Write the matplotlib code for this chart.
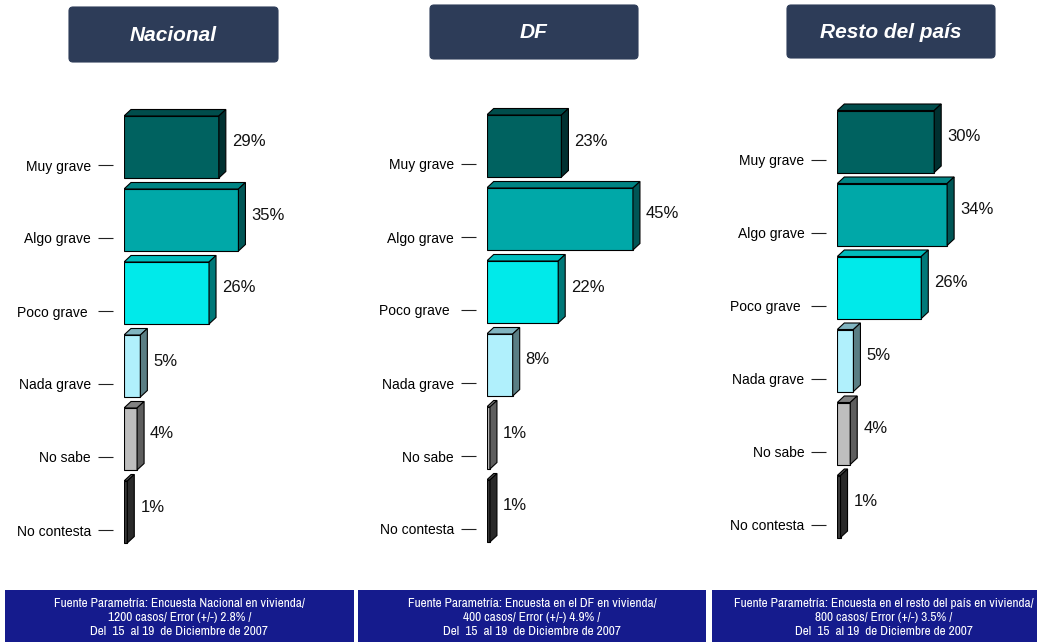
import matplotlib
matplotlib.use("Agg")
import matplotlib.pyplot as plt
from matplotlib.patches import Polygon, FancyBboxPatch, Rectangle
from matplotlib import font_manager

# ---------------- data ----------------
categories = ["Muy grave", "Algo grave", "Poco grave ", "Nada grave", "No sabe", "No contesta"]
nacional = [29, 35, 26, 5, 4, 1]
df_vals = [23, 45, 22, 8, 1, 1]
resto = [30, 34, 26, 5, 4, 1]
titles = ["Nacional", "DF", "Resto del país"]
footers = [
    "Fuente Parametría: Encuesta Nacional en vivienda/\n1200 casos/ Error (+/-) 2.8% /\nDel  15  al 19  de Diciembre de 2007",
    "Fuente Parametría: Encuesta en el DF en vivienda/\n400 casos/ Error (+/-) 4.9% /\nDel  15  al 19  de Diciembre de 2007",
    "Fuente Parametría: Encuesta en el resto del país en vivienda/\n800 casos/ Error (+/-) 3.5% /\nDel  15  al 19  de Diciembre de 2007",
]
series = [nacional, df_vals, resto]

# ---------------- styles ----------------
front_colors = ["#006260", "#00a8a8", "#00eaea", "#b0f0fc", "#bebebe", "#3c3c3c"]
top_colors = ["#004d4c", "#008484", "#00bcbc", "#80b4c0", "#828282", "#555555"]
side_colors = ["#003030", "#005656", "#007878", "#5a7e84", "#5e5e5e", "#2a2a2a"]

installed = {f.name for f in font_manager.fontManager.ttflist}
main_font = "Liberation Sans" if "Liberation Sans" in installed else "DejaVu Sans"
narrow_font = main_font
for cand in ["Liberation Sans Narrow", "Arial Narrow", "Archivo Narrow", "PT Sans Narrow",
             "Pragati Narrow", "Roboto Condensed", "Encode Sans Condensed", "Open Sans Condensed"]:
    if cand in installed:
        narrow_font = cand
        break
plt.rcParams["font.family"] = [main_font, "DejaVu Sans"]

W, H = 1037, 642
fig = plt.figure(figsize=(W / 100, H / 100), dpi=100)

# overlay axes in pixel coordinates for decorations
ov = fig.add_axes([0, 0, 1, 1], zorder=0)
ov.set_xlim(0, W)
ov.set_ylim(H, 0)
ov.axis("off")

title_boxes = [(69, 7, 209, 55), (430, 5, 208, 54), (787, 5, 208, 53)]
for (x, y, w, h), t in zip(title_boxes, titles):
    ov.add_patch(FancyBboxPatch((x, y), w, h, boxstyle="round,pad=0,rounding_size=4",
                                facecolor="#2d3c58", edgecolor="#2d3c58", linewidth=0.8))
    ov.text(x + w / 2, y + h / 2 + 1, t, ha="center", va="center", color="white",
            fontsize=15, fontweight="bold", fontstyle="italic")

footer_boxes = [(5, 590, 349), (358, 590, 348), (712, 590, 350)]
footer_text_x = [179.5, 532, 884]
for (x, y, w), tx, t in zip(footer_boxes, footer_text_x, footers):
    ov.add_patch(Rectangle((x, y), w, H - y + 5, facecolor="#151b8d", edgecolor="none"))
    ov.text(tx, 617.5, t, ha="center", va="center", color="white",
            fontsize=9.6, family=[narrow_font, "DejaVu Sans"], linespacing=1.32)

# ---------------- panels ----------------
panel_x0 = [124, 486.7, 837.3]
panel_scale = [3.27, 3.25, 3.23]
panel_c0 = [147, 146, 141.5]
spacing = 73.0
xmax = 60
bar_h = 62 / spacing
dx_px, dy_px = 7.0, 6.5

for vals, x0, sc, c0 in zip(series, panel_x0, panel_scale, panel_c0):
    top_px = c0 - spacing
    bot_px = c0 + 6 * spacing
    ax = fig.add_axes([x0 / W, (H - bot_px) / H, xmax * sc / W, (bot_px - top_px) / H], zorder=2)
    ax.set_xlim(0, xmax)
    ax.set_ylim(6, -1)
    ax.patch.set_visible(False)
    dx = dx_px / sc
    dy = dy_px / spacing
    ypos = list(range(len(categories)))
    ax.barh(ypos, vals, height=bar_h, left=0, color=front_colors,
            edgecolor="black", linewidth=0.8, zorder=3)
    for i, v in enumerate(vals):
        t = i - bar_h / 2
        b = i + bar_h / 2
        ax.add_patch(Polygon([(0, t), (v, t), (v + dx, t - dy), (dx, t - dy)], closed=True,
                             facecolor=top_colors[i], edgecolor="black", linewidth=0.8, zorder=3))
        ax.add_patch(Polygon([(v, t), (v + dx, t - dy), (v + dx, b - dy), (v, b)], closed=True,
                             facecolor=side_colors[i], edgecolor="black", linewidth=0.8, zorder=3))
        ax.text(v + dx + 6 / sc, i - 5 / spacing, f"{v}%", ha="left", va="center",
                fontsize=12, color="#111111", zorder=4)
    ax.set_yticks([i + 18 / spacing for i in ypos])
    ax.set_yticklabels(categories, fontsize=11.5, color="#111111")
    ax.tick_params(axis="y", length=10.8, width=0.8, pad=5, color="#222222")
    ax.set_xticks([])
    for s in ["top", "right", "bottom"]:
        ax.spines[s].set_visible(False)
    ax.spines["left"].set_position(("outward", 11 * 0.72))
    ax.spines["left"].set_visible(False)

fig.savefig("out.png", dpi=100)
